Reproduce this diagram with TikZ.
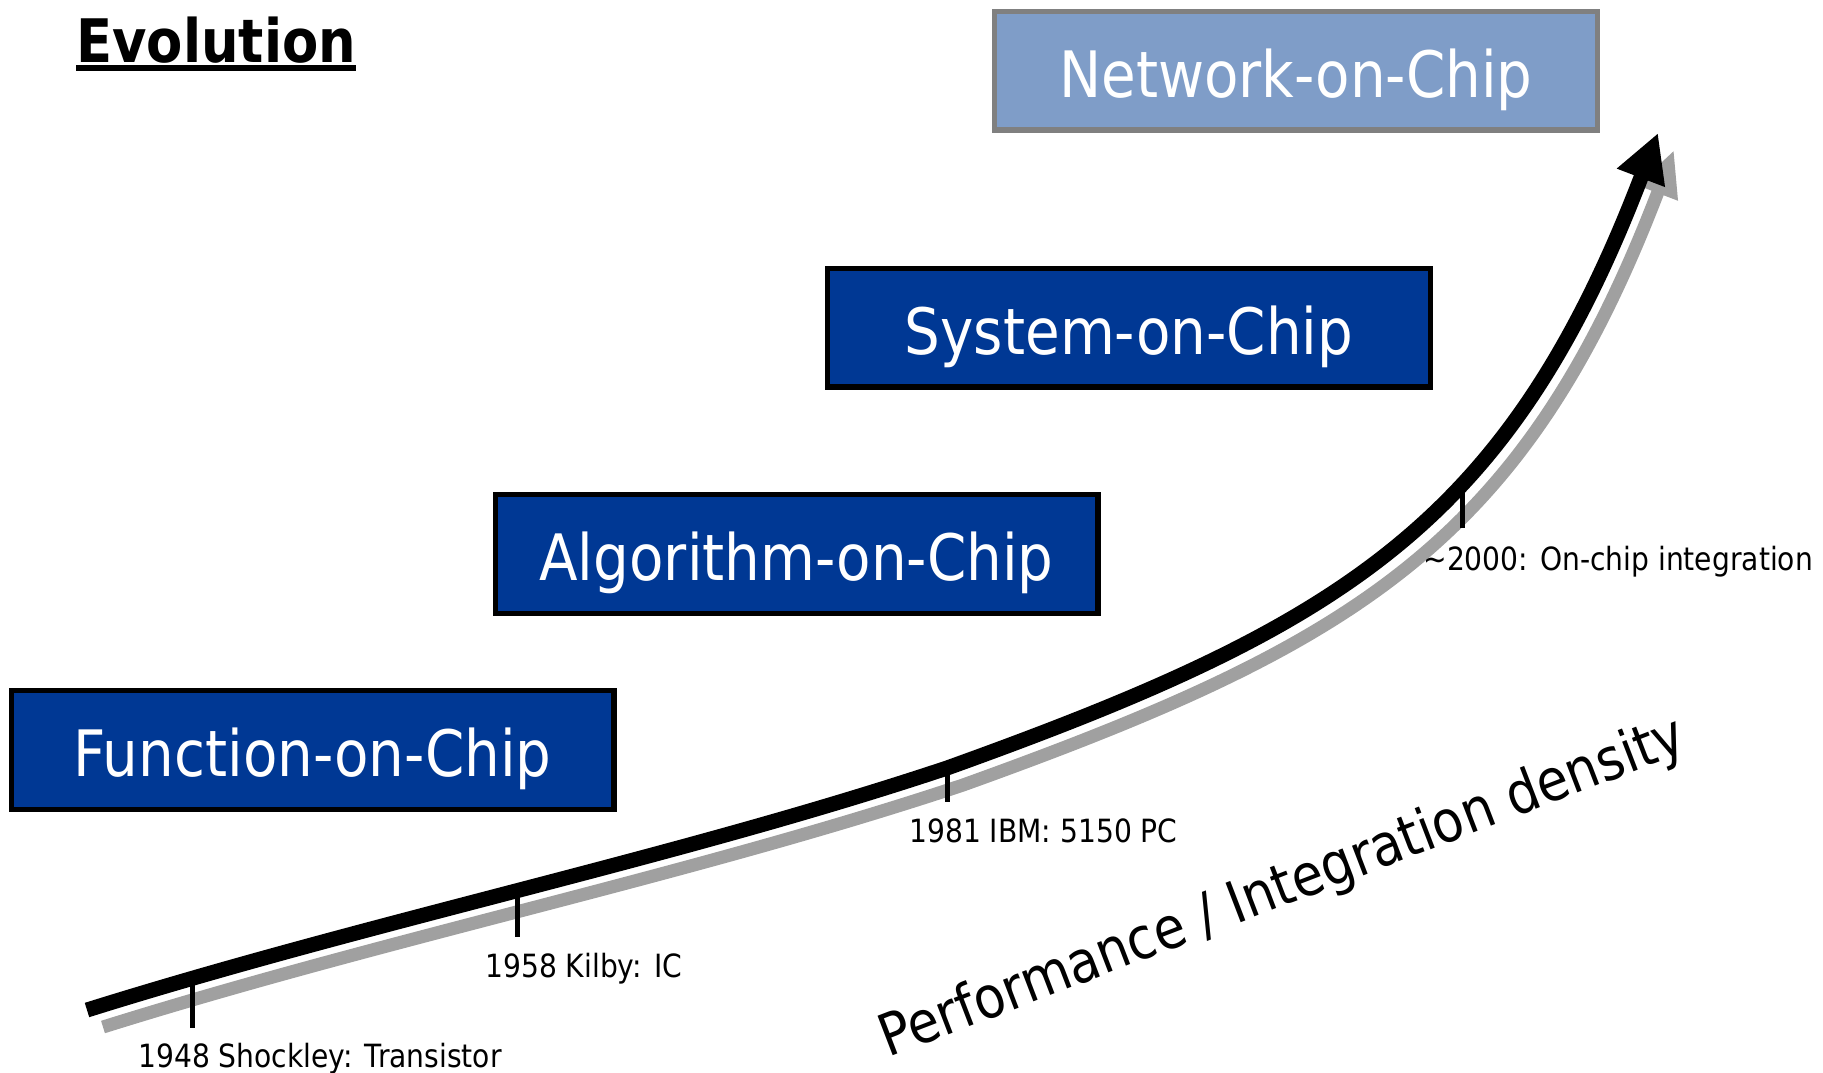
\documentclass[tikz,border=0pt]{standalone}
\usepackage{fontspec}
\setmainfont{DejaVu Sans}[FakeStretch=0.88]
\usetikzlibrary{arrows.meta}

\definecolor{chipblue}{RGB}{0,56,148}
\definecolor{noclight}{RGB}{127,157,200}
\definecolor{nocframe}{RGB}{128,128,128}
\definecolor{trailgray}{RGB}{160,160,160}

% the growth curve, drawn once as shadow and once on top
\newcommand{\growth}{(87,1010) .. controls (374,920) and (677,858) .. (947,768)
  .. controls (1342,626) and (1508,525) .. (1658,133)}

\begin{document}
\begin{tikzpicture}[x=0.5pt, y=-0.5pt,
    chip/.style={draw=black, line width=2.6pt, fill=chipblue, text=white,
      minimum width=301.4pt, minimum height=59.4pt, inner sep=0pt,
      text height=26.5pt, text depth=0pt, font=\fontsize{32}{38}\selectfont},
    year/.style={inner sep=0pt, anchor=base west, font=\fontsize{16}{19}\selectfont},
    yearmark/.style={line width=2.5pt},
  ]
\useasboundingbox (0,0) rectangle (1823,1072);

% title
\node[inner sep=0pt, anchor=base west, font=\bfseries\fontsize{30}{36}\selectfont]
  (title) at (76,62) {Evolution};
\draw[line width=3pt] ([yshift=-3pt]title.base west) -- ([yshift=-3pt]title.base east);

% stages
\node[chip] (func) at (312.5,750) {Function-on-Chip};
\node[chip] (algo) at (796.5,554) {Algorithm-on-Chip};
\node[chip] (soc) at (1129,327.5) {System-on-Chip};
\node[chip, fill=noclight, draw=nocframe] (noc) at (1296,70.5) {Network-on-Chip};

% curve with its shadow
\draw[trailgray, line width=6.5pt, shift={(16,17)},
  -{Triangle[length=23pt, width=20pt]}] \growth;
\draw[black, line width=7.5pt, -{Triangle[length=24pt, width=24pt]}] \growth;

% milestones
\foreach \tag/\px/\py/\len/\lx/\ly/\txt in {
    1948/192/979/49/138/1067/{1948 Shockley: Transistor},
    1958/517/891/46/485/977/{1958 Kilby: IC},
    1981/947/768/34/909/842/{1981 IBM: 5150 PC},
    2000/1462/480/48/1423/570/{\textasciitilde2000: On-chip integration}}
  {\coordinate (m\tag) at (\px,\py);
   \draw[yearmark] (m\tag) -- ++(0,\len);
   \node[year] (y\tag) at (\lx,\ly) {\txt};}

% axis label
\node[inner sep=0pt, anchor=base west, rotate=21, font=\fontsize{29}{34}\selectfont]
  (perf) at (888,1058) {Performance / Integration density};
\end{tikzpicture}
\end{document}
